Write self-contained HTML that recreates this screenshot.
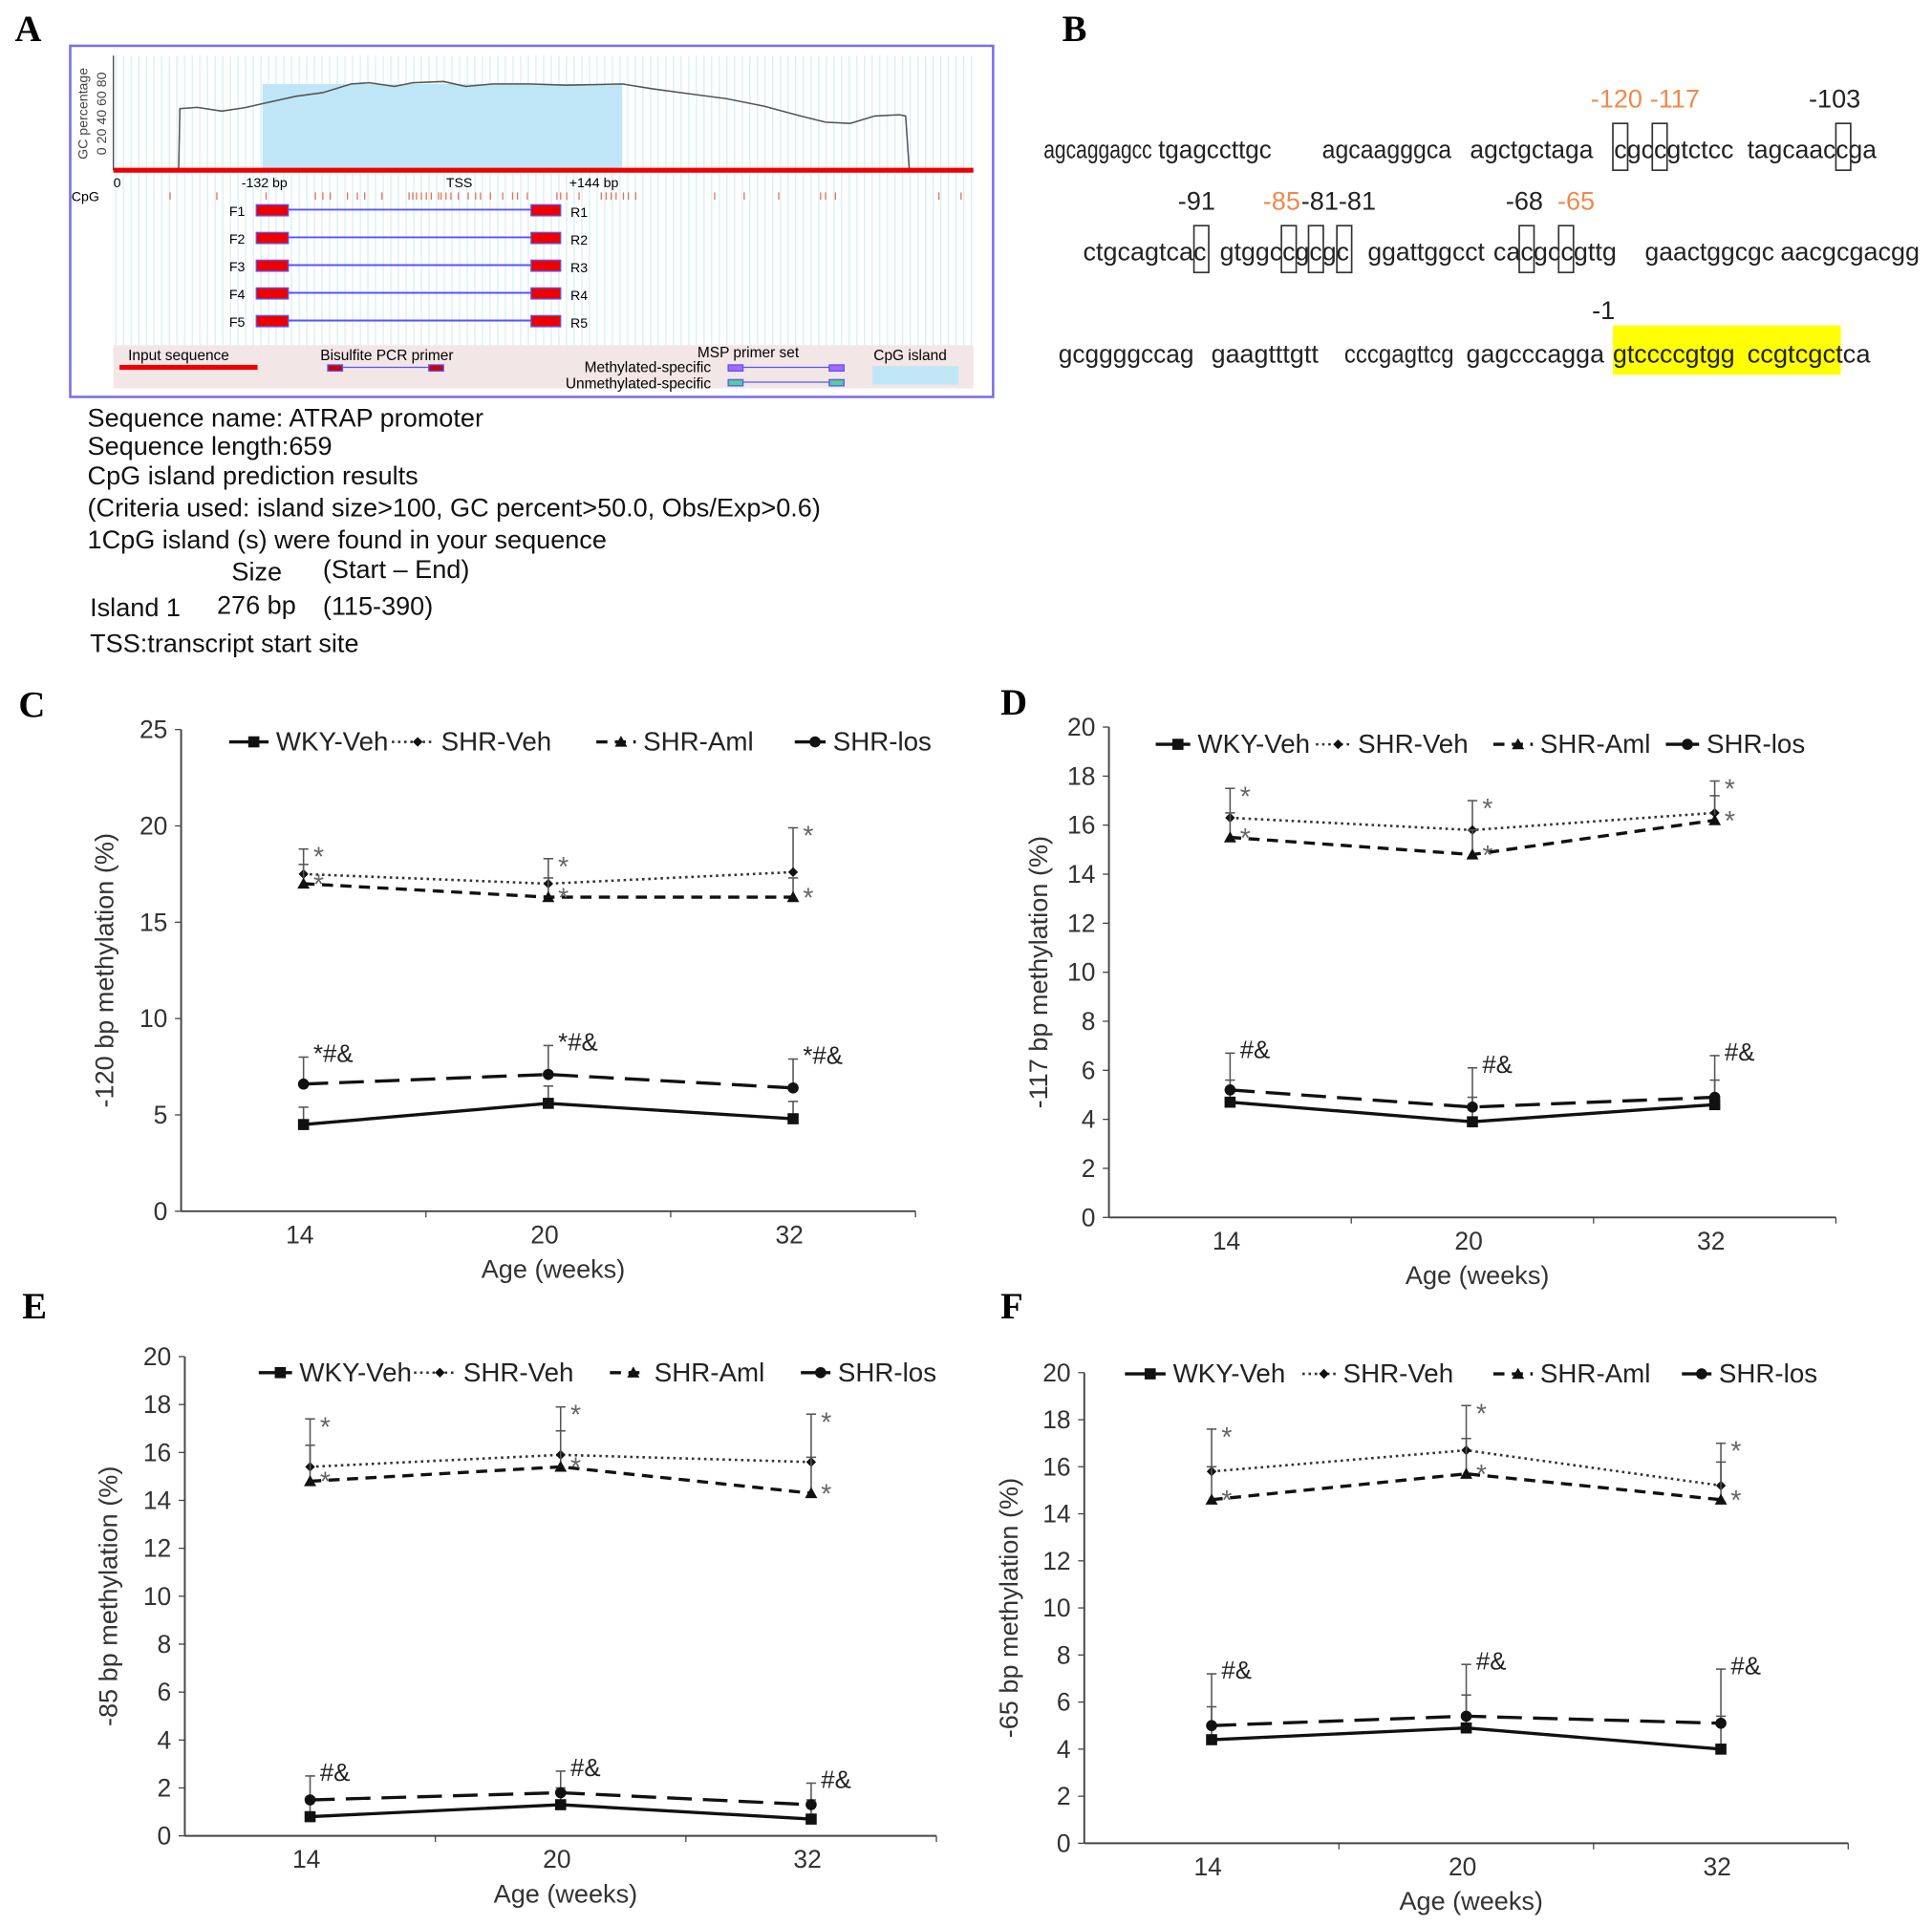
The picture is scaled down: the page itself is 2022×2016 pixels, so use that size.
<!DOCTYPE html>
<html><head><meta charset="utf-8"><style>
html,body{margin:0;padding:0;background:#fff;}
svg{display:block;font-family:"Liberation Sans",Arial,sans-serif;}
</style></head><body>
<svg id="fig" width="2022" height="2016" viewBox="0 0 1568 1563" xmlns="http://www.w3.org/2000/svg">
<g>
<text x="12" y="33" font-family="Liberation Serif,serif" font-weight="bold" font-size="30">A</text>
<rect x="57" y="37" width="749" height="285" fill="#fff" stroke="#7b6fe6" stroke-width="2"/>
<g id="stripes"></g>
<rect x="213" y="68" width="292" height="70" fill="#bfe6f7"/>
<path d="M145,138 L146,88 L160,87 L180,90 L200,87 L213,84 L240,78 L262,75 L285,68 L300,67 L320,70 L335,67 L360,66 L378,70 L400,68 L430,68 L460,69 L505,68 L530,72 L560,76 L590,80 L620,86 L650,94 L670,99 L690,100 L710,94 L730,93 L735,94 L738,138" fill="none" stroke="#555" stroke-width="1.2"/>
<line x1="92" y1="45" x2="92" y2="138" stroke="#444"/>
<line x1="92" y1="138" x2="790" y2="138" stroke="#e00" stroke-width="4"/>
<text transform="translate(71,92) rotate(-90)" text-anchor="middle" font-size="11" fill="#444">GC percentage</text>
<text transform="translate(86,92) rotate(-90)" text-anchor="middle" font-size="11" fill="#444">0 20 40 60 80</text>
<text x="92" y="152" font-size="11">0</text>
<text x="196" y="152" font-size="11">-132 bp</text>
<text x="362" y="152" font-size="11">TSS</text>
<text x="462" y="152" font-size="11">+144 bp</text>
<text x="58" y="163" font-size="11">CpG</text>
<g id="cpgticks"></g>
<g id="primers"></g>
<rect x="92" y="280" width="698" height="35" fill="#f3e6e6"/>
<text x="104" y="292" font-size="12">Input sequence</text>
<rect x="97" y="296" width="112" height="4" fill="#e00"/>
<text x="260" y="292" font-size="12">Bisulfite PCR primer</text>
<line x1="270" y1="298" x2="356" y2="298" stroke="#55f"/>
<rect x="266" y="296" width="12" height="5" fill="#c00" stroke="#55f"/>
<rect x="348" y="296" width="12" height="5" fill="#c00" stroke="#55f"/>
<text x="566" y="290" font-size="12">MSP primer set</text>
<text x="577" y="302" font-size="12" text-anchor="end">Methylated-specific</text>
<text x="577" y="315" font-size="12" text-anchor="end">Unmethylated-specific</text>
<line x1="596" y1="298" x2="683" y2="298" stroke="#55f"/><rect x="591" y="296" width="12" height="5" fill="#a6f" stroke="#55f"/><rect x="673" y="296" width="12" height="5" fill="#a6f" stroke="#55f"/>
<line x1="596" y1="310" x2="683" y2="310" stroke="#55f"/><rect x="591" y="308" width="12" height="5" fill="#5c9" stroke="#55f"/><rect x="673" y="308" width="12" height="5" fill="#5c9" stroke="#55f"/>
<text x="709" y="292" font-size="12">CpG island</text>
<rect x="708" y="297" width="70" height="15" fill="#bfe6f7"/>
<g font-size="21" fill="#111">
<text x="71" y="346">Sequence name: ATRAP promoter</text>
<text x="71" y="369">Sequence length:659</text>
<text x="71" y="393">CpG island prediction results</text>
<text x="71" y="419" textLength="595" lengthAdjust="spacingAndGlyphs">(Criteria used: island size&gt;100, GC percent&gt;50.0, Obs/Exp&gt;0.6)</text>
<text x="71" y="445">1CpG island (s) were found in your sequence</text>
<text x="188" y="471">Size</text><text x="262" y="469">(Start – End)</text>
<text x="73" y="500">Island 1</text><text x="176" y="498">276 bp</text><text x="262" y="499">(115-390)</text>
<text x="73" y="529">TSS:transcript start site</text>
</g>
</g>
<g font-size="21" fill="#222">
<text x="862" y="33" font-family="Liberation Serif,serif" font-weight="bold" font-size="30" fill="#000">B</text>
<rect x="1309" y="264" width="185" height="40" fill="#ffff00"/>
<g id="seq"></g>
<g id="boxes" fill="none" stroke="#333" stroke-width="1.3"></g>
</g>
<g id="charts"></g>
</svg>
<script>
const NS="http://www.w3.org/2000/svg";
function mk(tag,attrs,parent,txt){const e=document.createElementNS(NS,tag);for(const k in attrs)e.setAttribute(k,attrs[k]);if(txt!==undefined)e.textContent=txt;parent.appendChild(e);return e;}
const st=document.getElementById('stripes');
for(let x=94;x<790;x+=6.2){mk('line',{x1:x,y1:45,x2:x,y2:280,stroke:'#d4f0f6','stroke-width':1},st);}
const ct=document.getElementById('cpgticks');
[138,176,216,256,262,268,282,290,296,310,332,335,338,342,346,350,356,358,362,366,372,380,386,390,398,408,416,420,428,452,455,460,470,488,492,496,500,506,510,516,580,604,632,666,670,678,762,780].forEach(x=>mk('line',{x1:x,y1:156,x2:x,y2:162,stroke:'#e87050','stroke-width':1},ct));
const pr=document.getElementById('primers');
for(let i=0;i<5;i++){const y=170+i*22.5;
mk('text',{x:186,y:y+5,'font-size':11},pr,'F'+(i+1));
mk('line',{x1:232,y1:y,x2:432,y2:y,stroke:'#55f','stroke-width':1.5},pr);
mk('rect',{x:208,y:y-4,width:26,height:9,fill:'#e00',stroke:'#55f'},pr);
mk('rect',{x:431,y:y-4,width:24,height:9,fill:'#e00',stroke:'#55f'},pr);
mk('text',{x:463,y:y+6,'font-size':11},pr,'R'+(i+1));}
const seqWords=[["agcaggagcc",847,128,88],["tgagccttgc",940,128,92],["agcaagggca",1073,128,105],["agctgctaga",1193,128,100],["cgccgtctcc",1310,128,97],["tagcaaccga",1418,128,105],
["ctgcagtcac",879,211,100],["gtggccgcgc",990,211,105],["ggattggcct",1110,211,95],["cacgccgttg",1212,211,100],["gaactggcgc",1335,211,105],["aacgcgacgg",1445,211,113],
["gcggggccag",859,294,110],["gaagtttgtt",983,294,87],["cccgagttcg",1091,294,89],["gagcccagga",1190,294,112],["gtccccgtgg",1309,294,99],["ccgtcgctca",1418,294,100]];
const sq=document.getElementById('seq');
seqWords.forEach(w=>mk('text',{x:w[1],y:w[2],textLength:w[3],lengthAdjust:'spacingAndGlyphs'},sq,w[0]));
[["-120",1291,87,"#f08a4b"],["-117",1339,87,"#f08a4b"],["-103",1468,87,"#222"],["-91",956,170,"#222"],["-85",1025,170,"#f08a4b"],["-81-81",1056,170,"#222"],["-68",1222,170,"#222"],["-65",1264,170,"#f08a4b"],["-1",1292,259,"#222"]].forEach(l=>mk('text',{x:l[1],y:l[2],fill:l[3]},sq,l[0]));
const bx=document.getElementById('boxes');
[[1309,100],[1341,100],[1490,100],[969,183],[1040,183],[1062,183],[1085,183],[1233,183],[1265,183]].forEach(b=>mk('rect',{x:b[0],y:b[1],width:12,height:38},bx));
</script>
<script>
// ---- chart data (top level) ----
const categories=["14","20","32"];
const seriesNames=["WKY-Veh","SHR-Veh","SHR-Aml","SHR-los"];
// Panel C (-120 bp)
const C_wky=[4.5,5.6,4.8], C_wkyErr=[5.4,6.5,5.7];
const C_veh=[17.5,17.0,17.6], C_vehErr=[18.8,18.3,19.9];
const C_aml=[17.0,16.3,16.3], C_amlErr=[18.0,17.3,17.3];
const C_los=[6.6,7.1,6.4], C_losErr=[8.0,8.6,7.9];
const C_ticks=[0,5,10,15,20,25];
const C_vehNote=["*","*","*"], C_amlNote=["*","*","*"], C_losNote=["*#&","*#&","*#&"];
// Panel D (-117 bp)
const D_wky=[4.7,3.9,4.6], D_wkyErr=[5.6,4.9,5.6];
const D_veh=[16.3,15.8,16.5], D_vehErr=[17.5,17.0,17.8];
const D_aml=[15.5,14.8,16.2], D_amlErr=[16.5,15.8,17.2];
const D_los=[5.2,4.5,4.9], D_losErr=[6.7,6.1,6.6];
const D_ticks=[0,2,4,6,8,10,12,14,16,18,20];
const D_vehNote=["*","*","*"], D_amlNote=["*","*","*"], D_losNote=["#&","#&","#&"];
// Panel E (-85 bp)
const E_wky=[0.8,1.3,0.7], E_wkyErr=[1.6,2.0,1.5];
const E_veh=[15.4,15.9,15.6], E_vehErr=[17.4,17.9,17.6];
const E_aml=[14.8,15.4,14.3], E_amlErr=[16.3,16.9,15.8];
const E_los=[1.5,1.8,1.3], E_losErr=[2.5,2.7,2.2];
const E_ticks=[0,2,4,6,8,10,12,14,16,18,20];
const E_vehNote=["*","*","*"], E_amlNote=["*","*","*"], E_losNote=["#&","#&","#&"];
// Panel F (-65 bp)
const F_wky=[4.4,4.9,4.0], F_wkyErr=[5.8,6.3,5.4];
const F_veh=[15.8,16.7,15.2], F_vehErr=[17.6,18.6,17.0];
const F_aml=[14.6,15.7,14.6], F_amlErr=[16.0,17.2,16.2];
const F_los=[5.0,5.4,5.1], F_losErr=[7.2,7.6,7.4];
const F_ticks=[0,2,4,6,8,10,12,14,16,18,20];
const F_vehNote=["*","*","*"], F_amlNote=["*","*","*"], F_losNote=["#&","#&","#&"];

const panels=[
 {id:"c",letter:"C",lx:15,ly:582,x0:147,x1:743,y0:983,y1:592,ymax:25,ticks:C_ticks,title:"-120 bp methylation (%)",tx:92,
  leg:[[186,224],[318,358],[484,522],[645,676]],legY:602,
  s:[[C_wky,C_wkyErr],[C_veh,C_vehErr],[C_aml,C_amlErr],[C_los,C_losErr]],notes:[C_vehNote,C_amlNote,C_losNote]},
 {id:"d",letter:"D",lx:812,ly:580,x0:900,x1:1490,y0:988,y1:590,ymax:20,ticks:D_ticks,title:"-117 bp methylation (%)",tx:850,
  leg:[[938,972],[1068,1102],[1212,1250],[1352,1385]],legY:604,
  s:[[D_wky,D_wkyErr],[D_veh,D_vehErr],[D_aml,D_amlErr],[D_los,D_losErr]],notes:[D_vehNote,D_amlNote,D_losNote]},
 {id:"e",letter:"E",lx:18,ly:1070,x0:150,x1:760,y0:1490,y1:1101,ymax:20,ticks:E_ticks,title:"-85 bp methylation (%)",tx:95,
  leg:[[210,243],[336,376],[495,531],[650,680]],legY:1114,
  s:[[E_wky,E_wkyErr],[E_veh,E_vehErr],[E_aml,E_amlErr],[E_los,E_losErr]],notes:[E_vehNote,E_amlNote,E_losNote]},
 {id:"f",letter:"F",lx:812,ly:1070,x0:880,x1:1500,y0:1496,y1:1114,ymax:20,ticks:F_ticks,title:"-65 bp methylation (%)",tx:826,
  leg:[[913,952],[1057,1090],[1212,1250],[1365,1395]],legY:1115,
  s:[[F_wky,F_wkyErr],[F_veh,F_vehErr],[F_aml,F_amlErr],[F_los,F_losErr]],notes:[F_vehNote,F_amlNote,F_losNote]}
];
const styles=[{dash:"",w:2.6,color:"#111"},{dash:"2,3",w:2,color:"#333"},{dash:"9,6",w:2.6,color:"#111"},{dash:"20,9",w:2.6,color:"#111"}];
function marker(g,k,x,y,name){
  let e;
  if(k===0){e=mk('rect',{x:x-4.5,y:y-4.5,width:9,height:9,fill:'#111'},g);}
  else if(k===1){e=mk('path',{d:`M${x},${y-4}L${x+4},${y}L${x},${y+4}L${x-4},${y}Z`,fill:'#111'},g);}
  else if(k===2){e=mk('path',{d:`M${x},${y-5}L${x+5},${y+4}L${x-5},${y+4}Z`,fill:'#111'},g);}
  else {e=mk('circle',{cx:x,cy:y,r:4.5,fill:'#111'},g);}
  
  
}
const root=document.getElementById('charts');
panels.forEach(p=>{
  const g=mk('g',{},root);
  
  
  const band=(p.x1-p.x0)/categories.length;
  const xs=i=>p.x0+band*(i+0.5);
  const ys=v=>p.y0-(p.y0-p.y1)*v/p.ymax;
  const L=mk('text',{x:p.lx,y:p.ly,'font-family':'Liberation Serif,serif','font-weight':'bold','font-size':30},g,p.letter);
  
  
  const ya=mk('line',{x1:p.x0,y1:p.y1,x2:p.x0,y2:p.y0,stroke:'#444','stroke-width':1.5},g);
  
  
  const xa=mk('line',{x1:p.x0,y1:p.y0,x2:p.x1,y2:p.y0,stroke:'#444','stroke-width':1.5},g);
  
  
  p.ticks.forEach(t=>{
    mk('line',{x1:p.x0-5,y1:ys(t),x2:p.x0,y2:ys(t),stroke:'#444'},g);
    const tl=mk('text',{x:p.x0-11,y:ys(t)+7,'text-anchor':'end','font-size':20.5,fill:'#333'},g,String(t));
    
    
  });
  for(let i=1;i<=categories.length;i++){mk('line',{x1:p.x0+band*i,y1:p.y0,x2:p.x0+band*i,y2:p.y0+5,stroke:'#444'},g);}
  categories.forEach((c,i)=>{
    const cl=mk('text',{x:xs(i)-3,y:p.y0+26,'text-anchor':'middle','font-size':20.5,fill:'#333'},g,c);
    
    
  });
  const xt=mk('text',{x:(p.x0+p.x1)/2+4,y:p.y0+54,'text-anchor':'middle','font-size':21,fill:'#333'},g,'Age (weeks)');
  
  
  const yt=mk('text',{transform:`translate(${p.tx},${(p.y0+p.y1)/2}) rotate(-90)`,'text-anchor':'middle','font-size':21,fill:'#333'},g,p.title);
  
  
  p.s.forEach((ser,k)=>{
    const vals=ser[0],errs=ser[1],st=styles[k];
    const sg=mk('g',{},g);
    
    
    vals.forEach((v,i)=>{
      mk('line',{x1:xs(i),y1:ys(v),x2:xs(i),y2:ys(errs[i]),stroke:'#555','stroke-width':1.2},sg);
      mk('line',{x1:xs(i)-4,y1:ys(errs[i]),x2:xs(i)+4,y2:ys(errs[i]),stroke:'#555','stroke-width':1.2},sg);
    });
    const d=vals.map((v,i)=>(i?'L':'M')+xs(i)+','+ys(v)).join('');
    const ln=mk('path',{d:d,fill:'none',stroke:st.color,'stroke-width':st.w,'stroke-dasharray':st.dash},sg);
    
    
    vals.forEach((v,i)=>marker(sg,k,xs(i),ys(v),'point-'+seriesNames[k].toLowerCase()+'-'+categories[i]));
  });
  const [vehN,amlN,losN]=p.notes;
  categories.forEach((c,i)=>{
    const a1=mk('text',{x:xs(i)+8,y:ys(p.s[1][1][i])+14,'font-size':22,fill:'#666'},g,vehN[i]);
    
    
    const a2=mk('text',{x:xs(i)+8,y:ys(p.s[2][0][i])+8,'font-size':22,fill:'#666'},g,amlN[i]);
    
    
    const a3=mk('text',{x:xs(i)+8,y:ys(p.s[3][1][i])+4,'font-size':20,fill:'#222'},g,losN[i]);
    
    
  });
  p.leg.forEach((lp,k)=>{
    const lg=mk('g',{},g);
    
    
    const st=styles[k];
    mk('line',{x1:lp[0],y1:p.legY,x2:lp[1]-6,y2:p.legY,stroke:st.color,'stroke-width':st.w,'stroke-dasharray':k===3?'':st.dash},lg);
    marker(lg,k,(lp[0]+lp[1]-6)/2+4,p.legY,'legend-marker');
    mk('text',{x:lp[1],y:p.legY+7,'font-size':21.5,fill:'#222'},lg,seriesNames[k]);
  });
});
</script>
</body></html>
